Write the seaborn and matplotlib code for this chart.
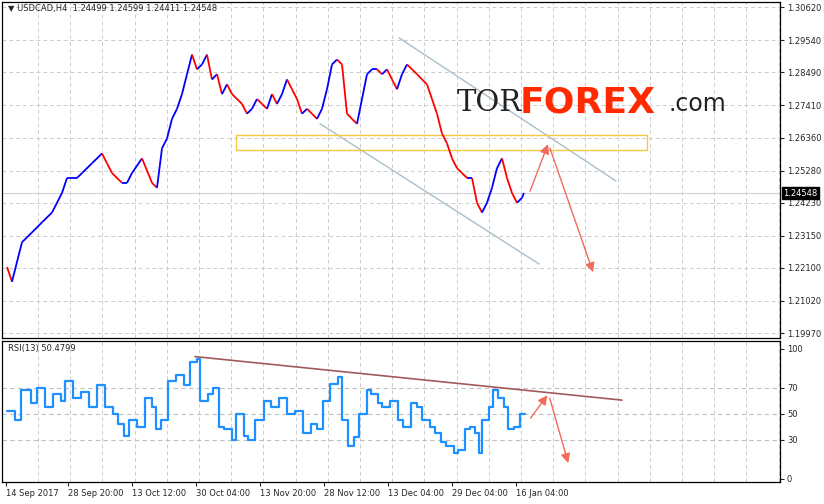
import numpy as np
import pandas as pd
import matplotlib
matplotlib.use("Agg")
import matplotlib.pyplot as plt
import seaborn as sns
from matplotlib.collections import LineCollection
from matplotlib.patches import Rectangle

sns.set_style("white")
plt.rcParams['font.family'] = ['DejaVu Sans']

# ---- data ----
price_x = [5,10,20,30,40,50,60,65,75,80,90,100,105,110,120,125,130,140,150,155,160,165,170,175,180,185,
           190,195,200,205,210,215,220,225,230,240,245,250,255,260,265,270,275,280,285,290,295,300,305,310,
           315,320,325,330,335,340,345,350,355,360,365,370,375,380,385,390,395,400,405,410,415,420,425,430,
           435,440,445,450,455,460,465,470,475,480,485,490,495,500,505,510,515,520,522]
price = [1.2213,1.2165,1.2294,1.2326,1.2359,1.2391,1.2455,1.2504,1.2504,1.2520,1.2552,1.2584,1.2552,1.2520,
         1.2488,1.2488,1.2520,1.2568,1.2488,1.2472,1.2601,1.2633,1.2697,1.2730,1.2778,1.2843,1.2907,1.2859,
         1.2875,1.2907,1.2826,1.2843,1.2778,1.2810,1.2778,1.2746,1.2714,1.2730,1.2762,1.2746,1.2730,1.2778,
         1.2746,1.2778,1.2826,1.2794,1.2762,1.2714,1.2730,1.2714,1.2697,1.2730,1.2794,1.2875,1.2891,1.2875,
         1.2714,1.2697,1.2681,1.2762,1.2843,1.2859,1.2859,1.2843,1.2859,1.2826,1.2794,1.2843,1.2875,1.2859,
         1.2843,1.2826,1.2810,1.2762,1.2714,1.2649,1.2617,1.2568,1.2536,1.2520,1.2504,1.2504,1.2423,1.2391,
         1.2423,1.2472,1.2536,1.2568,1.2504,1.2455,1.2423,1.2439,1.2455]
rsi_x = [5,13,19,29,35,43,51,59,63,71,79,87,95,103,111,116,122,127,135,143,150,154,159,166,174,182,188,
         195,198,206,211,217,222,230,234,242,246,253,262,269,277,285,293,301,309,315,321,328,336,340,346,
         352,357,365,369,376,380,388,396,401,409,415,420,428,433,439,444,452,456,463,468,473,477,480,487,
         491,496,502,506,512,518,523]
rsi = [52,45,68,58,70,55,65,60,75,62,67,55,72,55,50,42,33,45,40,62,55,38,45,75,80,72,90,92,60,65,70,40,38,
       30,50,33,30,45,60,55,62,50,52,35,42,38,60,73,78,45,25,32,50,68,65,58,55,60,45,40,58,55,45,40,35,28,25,
       20,22,38,40,35,20,45,55,68,62,55,38,40,50,50]
price_ticks = [1.30620,1.29540,1.28490,1.27410,1.26360,1.25280,1.24230,1.23150,1.22100,1.21020,1.19970]
date_labels = ["14 Sep 2017","28 Sep 20:00","13 Oct 12:00","30 Oct 04:00","13 Nov 20:00",
               "28 Nov 12:00","13 Dec 04:00","29 Dec 04:00","16 Jan 04:00"]
date_pos = [4,66,130,194,258,322,386,450,514]
last_price = 1.24548

W, H = 824, 504
fig = plt.figure(figsize=(W/100, H/100), dpi=100)
def fx(px): return px / W
ax = fig.add_axes([fx(2), 1 - 338/H, fx(778), 336/H])
ax2 = fig.add_axes([fx(2), 1 - 482/H, fx(778), 141/H])

FS = 6
ymin, ymax = 1.1981, 1.3079
for a in (ax, ax2):
    a.set_xlim(0, 778)
    for s in a.spines.values():
        s.set_color('black'); s.set_linewidth(0.9)
    for gx in np.arange(36, 778, 32.2):
        a.axvline(gx, color='#cccccc', ls=(0, (4, 3)), lw=0.7, zorder=0)

ax.set_ylim(ymin, ymax)
for t in price_ticks:
    ax.axhline(t, color='#cccccc', ls=(0, (4, 3)), lw=0.7, zorder=0)

pts = np.column_stack([price_x, price])
segs = np.stack([pts[:-1], pts[1:]], axis=1)
cols = ['#0000ff' if b >= a_ else '#ff0000' for a_, b in zip(price[:-1], price[1:])]
ax.add_collection(LineCollection(segs, colors=cols, linewidths=1.3, zorder=3))

ax.axhline(last_price, color='#d0d0d0', lw=0.8, zorder=1)

def py2p(py): return 1.30620 - (py - 7) * 0.1065 / 330
ax.plot([397, 614], [py2p(38), py2p(183)], color='#a9bfcc', lw=1)
ax.plot([318, 537], [py2p(125), py2p(267)], color='#a9bfcc', lw=1)
ax.add_patch(Rectangle((234, py2p(152)), 411, py2p(136) - py2p(152), fill=False,
                       edgecolor='#f5c842', lw=1, zorder=2))
ap = dict(arrowstyle='-|>', color='#f26b5b', lw=1, mutation_scale=14)
ax.annotate('', xy=(547, py2p(143)), xytext=(527, py2p(196)), arrowprops=ap)
ax.annotate('', xy=(592, py2p(278)), xytext=(547, py2p(147)), arrowprops=ap)

# logo
ax.text(455, py2p(104), "TOR", fontsize=21, family='DejaVu Serif', color='#222222', va='center')
ax.text(518, py2p(103), "FOREX", fontsize=26, fontweight='bold', color='#ff2a00', va='center')
ax.text(667, py2p(105), ".com", fontsize=17, color='#222222', va='center')

ax.text(6, 1.3079 - 0.0008, "\u25bc USDCAD,H4  1.24499 1.24599 1.24411 1.24548", fontsize=FS, va='top')

ax.yaxis.tick_right()
ax.set_yticks(price_ticks)
ax.set_yticklabels([f"{t:.5f}" for t in price_ticks], fontsize=FS)
ax.tick_params(axis='y', length=3, pad=2, right=True)
ax.set_xticks([])
ax.text(1.004, last_price, f"{last_price:.5f}", transform=ax.get_yaxis_transform(), fontsize=FS,
        color='white', va='center', ha='left', clip_on=False,
        bbox=dict(boxstyle='square,pad=0.15', fc='black', ec='black'))

ax2.set_ylim(-2.5, 106)
for t in (30, 50, 70):
    ax2.axhline(t, color='#c0c0c0', ls=(0, (4, 3)), lw=0.8, zorder=0)
df = pd.DataFrame({'x': rsi_x, 'rsi': rsi})
sns.lineplot(data=df, x='x', y='rsi', ax=ax2, color='#1e90ff', lw=1.6, drawstyle='steps-post')
ax2.plot([193, 620], [94, 60.5], color='#a05a5a', lw=1.2)
ax2.annotate('', xy=(547, 66), xytext=(527, 45), arrowprops=ap)
ax2.annotate('', xy=(567, 10), xytext=(547, 64), arrowprops=ap)
ax2.text(6, 100, "RSI(13) 50.4799", fontsize=FS, va='center')
ax2.yaxis.tick_right()
ax2.set_yticks([0, 30, 50, 70, 100])
ax2.set_yticklabels(['0', '30', '50', '70', '100'], fontsize=FS)
ax2.tick_params(axis='y', length=3, pad=2)
ax2.set_xticks(date_pos)
ax2.set_xticklabels(date_labels, fontsize=FS, ha='left')
ax2.tick_params(axis='x', length=3, pad=2, bottom=True)
ax2.set_xlabel(''); ax2.set_ylabel('')

fig.savefig('out.png', dpi=100)
